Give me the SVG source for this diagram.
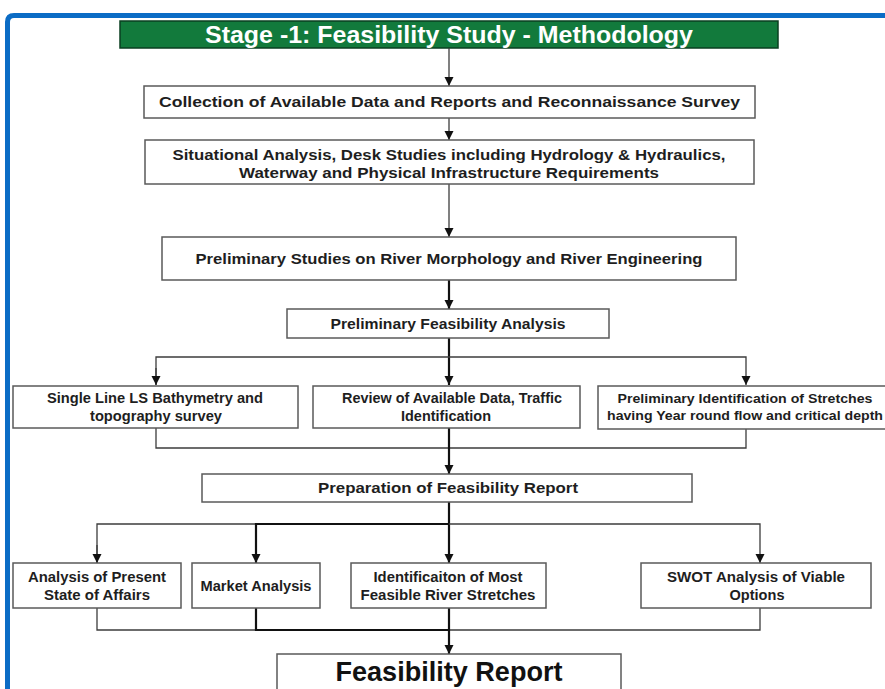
<svg xmlns="http://www.w3.org/2000/svg" width="885" height="689" viewBox="0 0 885 689">
<style>
.box{fill:#fff;stroke:#5a5a5a;stroke-width:1.5}
.t{font-family:"Liberation Sans",Arial,sans-serif;font-weight:bold;fill:#1e1e1e;text-anchor:middle;font-size:15px}
.c{fill:none;stroke:#3c3c3c;stroke-width:1.3}
.ck{fill:none;stroke:#111;stroke-width:2.2}
</style>
<defs>
<marker id="ah" markerUnits="userSpaceOnUse" markerWidth="9" markerHeight="11" refX="10" refY="5" orient="auto" viewBox="0 0 10 10"><path d="M0,0 L10,5 L0,10 z" fill="#111"/></marker>
</defs>
<rect width="885" height="689" fill="#fff"/>
<path d="M7.5,689 V22 Q7.5,15.5 14,15.5 H885" fill="none" stroke="#0b6cc5" stroke-width="5"/>

<g id="title">
<rect x="120" y="21" width="658" height="27" fill="#127a3c" stroke="#0a3f20" stroke-width="1.5"/>
<text x="449" y="43" class="t" style="fill:#fff;font-size:23px" textLength="488" lengthAdjust="spacingAndGlyphs">Stage -1:  Feasibility Study - Methodology</text>
</g>

<g id="connectors">
<path class="c" d="M449,48 V86" marker-end="url(#ah)"/>
<path class="c" d="M449,118 V140" marker-end="url(#ah)"/>
<path class="c" d="M449,184 V237" marker-end="url(#ah)"/>
<path class="ck" d="M449,280 V309" marker-end="url(#ah)"/>
<path class="ck" d="M449,338 V385" marker-end="url(#ah)"/>
<path class="c" d="M156,385 V357 H746 V385" marker-end="url(#ah)"/>
<path class="c" d="M156,368 V385" marker-end="url(#ah)"/>
<path class="c" d="M156,428 V448 H746 V428"/>
<path class="ck" d="M449,428 V474" marker-end="url(#ah)"/>
<path class="ck" d="M449,502 V563" marker-end="url(#ah)"/>
<path class="c" d="M97,563 V524 H760 V563" marker-end="url(#ah)"/>
<path class="c" d="M97,545 V563" marker-end="url(#ah)"/>
<path class="ck" d="M449,524 H256 V563" marker-end="url(#ah)"/>
<path class="c" d="M97,608 V630 H760 V608"/>
<path class="ck" d="M256,608 V630 H449"/>
<path class="ck" d="M449,608 V654" marker-end="url(#ah)"/>
</g>

<g id="collection">
<rect class="box" x="144" y="86" width="611" height="32"/>
<text class="t" x="449.5" y="107" textLength="581" lengthAdjust="spacingAndGlyphs">Collection of Available Data and Reports  and Reconnaissance Survey</text>
</g>

<g id="situational">
<rect class="box" x="145" y="140" width="609" height="44"/>
<text class="t" x="449" y="160" textLength="553" lengthAdjust="spacingAndGlyphs">Situational Analysis, Desk Studies including Hydrology &amp; Hydraulics,</text>
<text class="t" x="449" y="178" textLength="420" lengthAdjust="spacingAndGlyphs">Waterway and Physical Infrastructure Requirements</text>
</g>

<g id="prelim-studies">
<rect class="box" x="162" y="237" width="574" height="43"/>
<text class="t" x="449" y="264" textLength="507" lengthAdjust="spacingAndGlyphs">Preliminary Studies on River Morphology and River Engineering</text>
</g>

<g id="prelim-feasibility">
<rect class="box" x="287" y="309" width="322" height="29"/>
<text class="t" x="448" y="329" textLength="235" lengthAdjust="spacingAndGlyphs">Preliminary Feasibility Analysis</text>
</g>

<g id="single-line">
<rect class="box" x="13" y="386" width="285" height="42"/>
<text class="t" x="155" y="403" textLength="216" lengthAdjust="spacingAndGlyphs">Single Line LS Bathymetry and</text>
<text class="t" x="156" y="421" textLength="132" lengthAdjust="spacingAndGlyphs">topography survey</text>
</g>

<g id="review">
<rect class="box" x="313" y="386" width="267" height="42"/>
<text class="t" x="452" y="403" textLength="220" lengthAdjust="spacingAndGlyphs">Review of Available Data, Traffic</text>
<text class="t" x="446" y="421" textLength="90" lengthAdjust="spacingAndGlyphs">Identification</text>
</g>

<g id="prelim-identification">
<rect class="box" x="598" y="386" width="295" height="43"/>
<text class="t" x="745" y="403" style="font-size:12.5px" textLength="255" lengthAdjust="spacingAndGlyphs">Preliminary Identification of Stretches</text>
<text class="t" x="745" y="420" style="font-size:12.5px" textLength="276" lengthAdjust="spacingAndGlyphs">having Year round flow and critical depth</text>
</g>

<g id="preparation">
<rect class="box" x="202" y="474" width="490" height="28"/>
<text class="t" x="448" y="493" textLength="260" lengthAdjust="spacingAndGlyphs">Preparation of Feasibility Report</text>
</g>

<g id="present-state">
<rect class="box" x="13" y="563" width="168" height="45"/>
<text class="t" x="97" y="582" textLength="138" lengthAdjust="spacingAndGlyphs">Analysis of Present</text>
<text class="t" x="97" y="600" textLength="106" lengthAdjust="spacingAndGlyphs">State of Affairs</text>
</g>

<g id="market">
<rect class="box" x="192" y="563" width="128" height="45"/>
<text class="t" x="256" y="591" textLength="111" lengthAdjust="spacingAndGlyphs">Market Analysis</text>
</g>

<g id="identification">
<rect class="box" x="351" y="563" width="195" height="45"/>
<text class="t" x="448" y="582" textLength="149" lengthAdjust="spacingAndGlyphs">Identificaiton of Most</text>
<text class="t" x="448" y="600" textLength="175" lengthAdjust="spacingAndGlyphs">Feasible River Stretches</text>
</g>

<g id="swot">
<rect class="box" x="641" y="563" width="230" height="45"/>
<text class="t" x="756" y="582" textLength="178" lengthAdjust="spacingAndGlyphs">SWOT Analysis of Viable</text>
<text class="t" x="757" y="600" textLength="55" lengthAdjust="spacingAndGlyphs">Options</text>
</g>

<g id="feasibility-report">
<rect class="box" x="277" y="654" width="344" height="40"/>
<text class="t" x="449" y="681" style="font-size:28px;fill:#111" textLength="227" lengthAdjust="spacingAndGlyphs">Feasibility Report</text>
</g>
</svg>
